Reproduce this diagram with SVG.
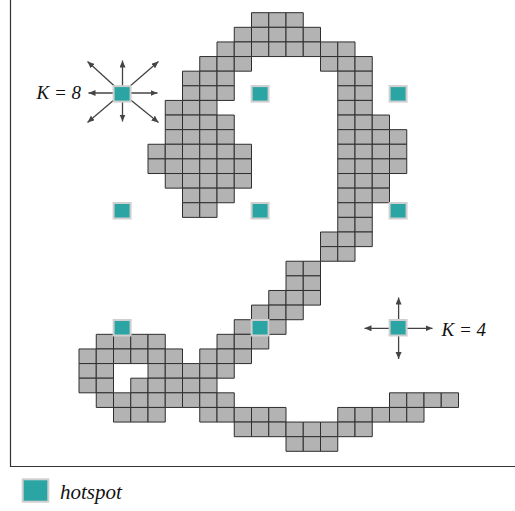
<svg xmlns="http://www.w3.org/2000/svg" width="515" height="511" viewBox="0 0 515 511">
<style>
.c{fill:#b3b3b3;stroke:#2e2e2e;stroke-width:1;vector-effect:non-scaling-stroke}
.hs{fill:#2ba5a4;stroke:#cfcfcf;stroke-width:2}
.ar{stroke:#444;stroke-width:1.3;fill:none;marker-end:url(#ah)}
.lbl{font-family:"Liberation Serif","Times New Roman",serif;font-style:italic;fill:#111}
.frame{stroke:#333;stroke-width:1.2;fill:none}
</style>
<defs>
<marker id="ah" markerUnits="userSpaceOnUse" markerWidth="8" markerHeight="8" refX="7" refY="3" orient="auto">
<path d="M0,0 L7,3 L0,6 Z" fill="#444"/>
</marker>
</defs>
<rect width="515" height="511" fill="#fff"/>
<path class="frame" d="M10.5,0 V466.5 H515"/>
<g id="grid" transform="translate(79,12.7) scale(17.25,14.62)">
<!-- r0 -->
<rect class="c" x="10" y="0" width="1" height="1"/><rect class="c" x="11" y="0" width="1" height="1"/><rect class="c" x="12" y="0" width="1" height="1"/>
<!-- r1 -->
<rect class="c" x="9" y="1" width="1" height="1"/><rect class="c" x="10" y="1" width="1" height="1"/><rect class="c" x="11" y="1" width="1" height="1"/><rect class="c" x="12" y="1" width="1" height="1"/><rect class="c" x="13" y="1" width="1" height="1"/>
<!-- r2 -->
<rect class="c" x="8" y="2" width="1" height="1"/><rect class="c" x="9" y="2" width="1" height="1"/><rect class="c" x="10" y="2" width="1" height="1"/><rect class="c" x="11" y="2" width="1" height="1"/><rect class="c" x="12" y="2" width="1" height="1"/><rect class="c" x="13" y="2" width="1" height="1"/><rect class="c" x="14" y="2" width="1" height="1"/><rect class="c" x="15" y="2" width="1" height="1"/>
<!-- r3 -->
<rect class="c" x="7" y="3" width="1" height="1"/><rect class="c" x="8" y="3" width="1" height="1"/><rect class="c" x="9" y="3" width="1" height="1"/><rect class="c" x="14" y="3" width="1" height="1"/><rect class="c" x="15" y="3" width="1" height="1"/><rect class="c" x="16" y="3" width="1" height="1"/>
<!-- r4 -->
<rect class="c" x="6" y="4" width="1" height="1"/><rect class="c" x="7" y="4" width="1" height="1"/><rect class="c" x="8" y="4" width="1" height="1"/><rect class="c" x="15" y="4" width="1" height="1"/><rect class="c" x="16" y="4" width="1" height="1"/>
<!-- r5 -->
<rect class="c" x="6" y="5" width="1" height="1"/><rect class="c" x="7" y="5" width="1" height="1"/><rect class="c" x="8" y="5" width="1" height="1"/><rect class="c" x="15" y="5" width="1" height="1"/><rect class="c" x="16" y="5" width="1" height="1"/>
<!-- r6 -->
<rect class="c" x="5" y="6" width="1" height="1"/><rect class="c" x="6" y="6" width="1" height="1"/><rect class="c" x="7" y="6" width="1" height="1"/><rect class="c" x="15" y="6" width="1" height="1"/><rect class="c" x="16" y="6" width="1" height="1"/>
<!-- r7 -->
<rect class="c" x="5" y="7" width="1" height="1"/><rect class="c" x="6" y="7" width="1" height="1"/><rect class="c" x="7" y="7" width="1" height="1"/><rect class="c" x="8" y="7" width="1" height="1"/><rect class="c" x="15" y="7" width="1" height="1"/><rect class="c" x="16" y="7" width="1" height="1"/><rect class="c" x="17" y="7" width="1" height="1"/>
<!-- r8 -->
<rect class="c" x="5" y="8" width="1" height="1"/><rect class="c" x="6" y="8" width="1" height="1"/><rect class="c" x="7" y="8" width="1" height="1"/><rect class="c" x="8" y="8" width="1" height="1"/><rect class="c" x="15" y="8" width="1" height="1"/><rect class="c" x="16" y="8" width="1" height="1"/><rect class="c" x="17" y="8" width="1" height="1"/><rect class="c" x="18" y="8" width="1" height="1"/>
<!-- r9 -->
<rect class="c" x="4" y="9" width="1" height="1"/><rect class="c" x="5" y="9" width="1" height="1"/><rect class="c" x="6" y="9" width="1" height="1"/><rect class="c" x="7" y="9" width="1" height="1"/><rect class="c" x="8" y="9" width="1" height="1"/><rect class="c" x="9" y="9" width="1" height="1"/><rect class="c" x="15" y="9" width="1" height="1"/><rect class="c" x="16" y="9" width="1" height="1"/><rect class="c" x="17" y="9" width="1" height="1"/><rect class="c" x="18" y="9" width="1" height="1"/>
<!-- r10 -->
<rect class="c" x="4" y="10" width="1" height="1"/><rect class="c" x="5" y="10" width="1" height="1"/><rect class="c" x="6" y="10" width="1" height="1"/><rect class="c" x="7" y="10" width="1" height="1"/><rect class="c" x="8" y="10" width="1" height="1"/><rect class="c" x="9" y="10" width="1" height="1"/><rect class="c" x="15" y="10" width="1" height="1"/><rect class="c" x="16" y="10" width="1" height="1"/><rect class="c" x="17" y="10" width="1" height="1"/><rect class="c" x="18" y="10" width="1" height="1"/>
<!-- r11 -->
<rect class="c" x="5" y="11" width="1" height="1"/><rect class="c" x="6" y="11" width="1" height="1"/><rect class="c" x="7" y="11" width="1" height="1"/><rect class="c" x="8" y="11" width="1" height="1"/><rect class="c" x="9" y="11" width="1" height="1"/><rect class="c" x="15" y="11" width="1" height="1"/><rect class="c" x="16" y="11" width="1" height="1"/><rect class="c" x="17" y="11" width="1" height="1"/>
<!-- r12 -->
<rect class="c" x="6" y="12" width="1" height="1"/><rect class="c" x="7" y="12" width="1" height="1"/><rect class="c" x="8" y="12" width="1" height="1"/><rect class="c" x="15" y="12" width="1" height="1"/><rect class="c" x="16" y="12" width="1" height="1"/><rect class="c" x="17" y="12" width="1" height="1"/>
<!-- r13 -->
<rect class="c" x="6" y="13" width="1" height="1"/><rect class="c" x="7" y="13" width="1" height="1"/><rect class="c" x="15" y="13" width="1" height="1"/><rect class="c" x="16" y="13" width="1" height="1"/>
<!-- r14 -->
<rect class="c" x="15" y="14" width="1" height="1"/><rect class="c" x="16" y="14" width="1" height="1"/>
<!-- r15 -->
<rect class="c" x="14" y="15" width="1" height="1"/><rect class="c" x="15" y="15" width="1" height="1"/><rect class="c" x="16" y="15" width="1" height="1"/>
<!-- r16 -->
<rect class="c" x="14" y="16" width="1" height="1"/><rect class="c" x="15" y="16" width="1" height="1"/>
<!-- r17 -->
<rect class="c" x="12" y="17" width="1" height="1"/><rect class="c" x="13" y="17" width="1" height="1"/>
<!-- r18 -->
<rect class="c" x="12" y="18" width="1" height="1"/><rect class="c" x="13" y="18" width="1" height="1"/>
<!-- r19 -->
<rect class="c" x="11" y="19" width="1" height="1"/><rect class="c" x="12" y="19" width="1" height="1"/><rect class="c" x="13" y="19" width="1" height="1"/>
<!-- r20 -->
<rect class="c" x="10" y="20" width="1" height="1"/><rect class="c" x="11" y="20" width="1" height="1"/><rect class="c" x="12" y="20" width="1" height="1"/>
<!-- r21 -->
<rect class="c" x="9" y="21" width="1" height="1"/><rect class="c" x="10" y="21" width="1" height="1"/><rect class="c" x="11" y="21" width="1" height="1"/>
<!-- r22 -->
<rect class="c" x="1" y="22" width="1" height="1"/><rect class="c" x="2" y="22" width="1" height="1"/><rect class="c" x="3" y="22" width="1" height="1"/><rect class="c" x="4" y="22" width="1" height="1"/><rect class="c" x="8" y="22" width="1" height="1"/><rect class="c" x="9" y="22" width="1" height="1"/><rect class="c" x="10" y="22" width="1" height="1"/>
<!-- r23 -->
<rect class="c" x="0" y="23" width="1" height="1"/><rect class="c" x="1" y="23" width="1" height="1"/><rect class="c" x="2" y="23" width="1" height="1"/><rect class="c" x="3" y="23" width="1" height="1"/><rect class="c" x="4" y="23" width="1" height="1"/><rect class="c" x="5" y="23" width="1" height="1"/><rect class="c" x="7" y="23" width="1" height="1"/><rect class="c" x="8" y="23" width="1" height="1"/><rect class="c" x="9" y="23" width="1" height="1"/>
<!-- r24 -->
<rect class="c" x="0" y="24" width="1" height="1"/><rect class="c" x="1" y="24" width="1" height="1"/><rect class="c" x="4" y="24" width="1" height="1"/><rect class="c" x="5" y="24" width="1" height="1"/><rect class="c" x="6" y="24" width="1" height="1"/><rect class="c" x="7" y="24" width="1" height="1"/><rect class="c" x="8" y="24" width="1" height="1"/>
<!-- r25 -->
<rect class="c" x="0" y="25" width="1" height="1"/><rect class="c" x="1" y="25" width="1" height="1"/><rect class="c" x="3" y="25" width="1" height="1"/><rect class="c" x="4" y="25" width="1" height="1"/><rect class="c" x="5" y="25" width="1" height="1"/><rect class="c" x="6" y="25" width="1" height="1"/><rect class="c" x="7" y="25" width="1" height="1"/>
<!-- r26 -->
<rect class="c" x="1" y="26" width="1" height="1"/><rect class="c" x="2" y="26" width="1" height="1"/><rect class="c" x="3" y="26" width="1" height="1"/><rect class="c" x="4" y="26" width="1" height="1"/><rect class="c" x="5" y="26" width="1" height="1"/><rect class="c" x="6" y="26" width="1" height="1"/><rect class="c" x="7" y="26" width="1" height="1"/><rect class="c" x="8" y="26" width="1" height="1"/><rect class="c" x="18" y="26" width="1" height="1"/><rect class="c" x="19" y="26" width="1" height="1"/><rect class="c" x="20" y="26" width="1" height="1"/><rect class="c" x="21" y="26" width="1" height="1"/>
<!-- r27 -->
<rect class="c" x="2" y="27" width="1" height="1"/><rect class="c" x="3" y="27" width="1" height="1"/><rect class="c" x="4" y="27" width="1" height="1"/><rect class="c" x="7" y="27" width="1" height="1"/><rect class="c" x="8" y="27" width="1" height="1"/><rect class="c" x="9" y="27" width="1" height="1"/><rect class="c" x="10" y="27" width="1" height="1"/><rect class="c" x="11" y="27" width="1" height="1"/><rect class="c" x="15" y="27" width="1" height="1"/><rect class="c" x="16" y="27" width="1" height="1"/><rect class="c" x="17" y="27" width="1" height="1"/><rect class="c" x="18" y="27" width="1" height="1"/><rect class="c" x="19" y="27" width="1" height="1"/>
<!-- r28 -->
<rect class="c" x="9" y="28" width="1" height="1"/><rect class="c" x="10" y="28" width="1" height="1"/><rect class="c" x="11" y="28" width="1" height="1"/><rect class="c" x="12" y="28" width="1" height="1"/><rect class="c" x="13" y="28" width="1" height="1"/><rect class="c" x="14" y="28" width="1" height="1"/><rect class="c" x="15" y="28" width="1" height="1"/><rect class="c" x="16" y="28" width="1" height="1"/>
<!-- r29 -->
<rect class="c" x="12" y="29" width="1" height="1"/><rect class="c" x="13" y="29" width="1" height="1"/><rect class="c" x="14" y="29" width="1" height="1"/>
</g>
<g id="connectors">
<line class="ar" x1="122.1" y1="93" x2="88.5" y2="93"/>
<line class="ar" x1="122.1" y1="93" x2="157.5" y2="93"/>
<line class="ar" x1="122.5" y1="93" x2="122.5" y2="60.5"/>
<line class="ar" x1="122.5" y1="93" x2="122.5" y2="121.5"/>
<line class="ar" x1="122.1" y1="93" x2="87.5" y2="61.5"/>
<line class="ar" x1="122.1" y1="93" x2="158.5" y2="61.5"/>
<line class="ar" x1="122.1" y1="93" x2="87.5" y2="122.5"/>
<line class="ar" x1="122.1" y1="93" x2="158.5" y2="122.5"/>
<line class="ar" x1="398.4" y1="328.3" x2="364.5" y2="328.3"/>
<line class="ar" x1="398.4" y1="328.3" x2="432.5" y2="328.3"/>
<line class="ar" x1="398.6" y1="328.3" x2="398.6" y2="297.5"/>
<line class="ar" x1="398.6" y1="328.3" x2="398.6" y2="359"/>
</g>
<g id="hotspot-k8"><rect class="hs" x="113.6" y="86.1" width="17" height="15.5"/></g>
<g id="hotspot-2"><rect class="hs" x="251.6" y="86.1" width="17" height="15.5"/></g>
<g id="hotspot-3"><rect class="hs" x="389.6" y="86.1" width="17" height="15.5"/></g>
<g id="hotspot-4"><rect class="hs" x="113.6" y="203" width="17" height="15.5"/></g>
<g id="hotspot-5"><rect class="hs" x="251.6" y="203" width="17" height="15.5"/></g>
<g id="hotspot-6"><rect class="hs" x="389.6" y="203" width="17" height="15.5"/></g>
<g id="hotspot-7"><rect class="hs" x="113.6" y="320" width="17" height="15.5"/></g>
<g id="hotspot-8"><rect class="hs" x="251.6" y="320" width="17" height="15.5"/></g>
<g id="hotspot-k4"><rect class="hs" x="389.6" y="320" width="17" height="15.5"/></g>
<text class="lbl" x="36.5" y="99" font-size="19">K = 8</text>
<text class="lbl" x="441.5" y="335.5" font-size="19">K = 4</text>
<g id="legend">
<rect class="hs" x="22.7" y="479.3" width="25.6" height="22.4"/>
<text class="lbl" x="60" y="498.5" font-size="21">hotspot</text>
</g>
</svg>
